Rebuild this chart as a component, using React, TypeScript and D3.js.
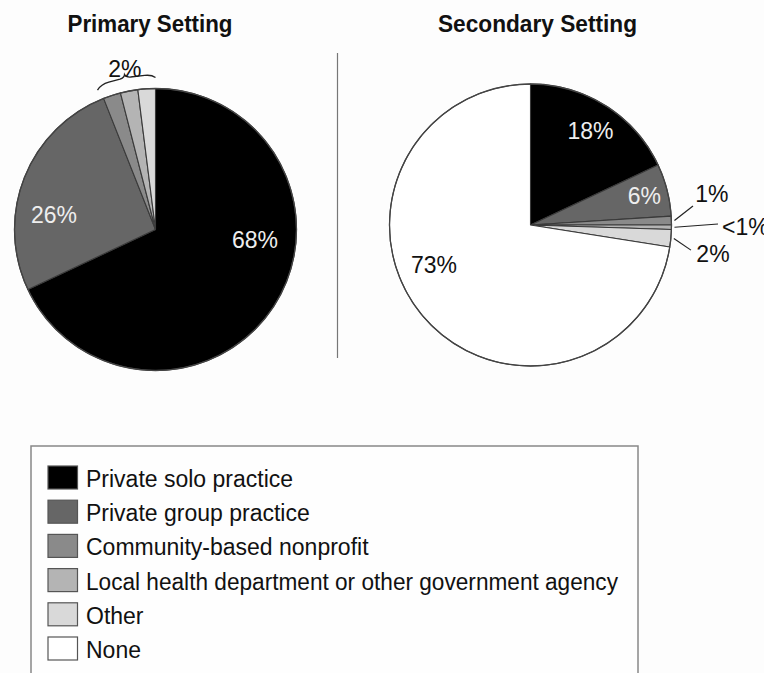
import React from "react";
import * as d3 from "d3";

const categories = [
  "Private solo practice",
  "Private group practice",
  "Community-based nonprofit",
  "Local health department or other government agency",
  "Other",
  "None",
];
const primaryValues = [68, 26, 2, 2, 2, 0];
const secondaryValues = [18, 6, 1, 0.5, 2, 72.5];
const primaryLabels = ["68%", "26%", "", "", "", ""];
const primaryGroupLabel = "2%";
const secondaryLabels = ["18%", "6%", "1%", "<1%", "2%", "73%"];
const titles = ["Primary Setting", "Secondary Setting"];

const palette = ["#000000", "#666666", "#8a8a8a", "#b4b4b4", "#d9d9d9", "#ffffff"];
const FONT = "'Liberation Sans', Arial, Helvetica, sans-serif";
const R = 141;

function polar(cx: number, cy: number, deg: number, r: number): [number, number] {
  const a = (deg * Math.PI) / 180;
  return [cx + r * Math.sin(a), cy - r * Math.cos(a)];
}

type Slice = d3.PieArcDatum<number> & { idx: number };

function makeSlices(values: number[]): Slice[] {
  const pie = d3.pie<number>().sort(null).value((d) => d).startAngle(0).endAngle(2 * Math.PI);
  return pie(values)
    .map((d, i) => ({ ...d, idx: i }))
    .filter((d) => d.value > 0);
}

const arcGen = d3.arc<Slice>().innerRadius(0).outerRadius(R);

function Pie({ cx, cy, values }: { cx: number; cy: number; values: number[] }) {
  const slices = makeSlices(values);
  return (
    <g transform={`translate(${cx},${cy})`}>
      {slices.map((s) => (
        <path
          key={s.idx}
          d={arcGen(s) || ""}
          fill={palette[s.idx]}
          stroke="#3a3a3a"
          strokeWidth={1.1}
          strokeLinejoin="round"
        />
      ))}
      <circle r={R} fill="none" stroke="#444" strokeWidth={1.3} />
    </g>
  );
}

export default function App() {
  const pc: [number, number] = [155.5, 229.5];
  const sc: [number, number] = [530.5, 225];
  const pSlices = makeSlices(primaryValues);
  const sSlices = makeSlices(secondaryValues);
  const labelFont = 23;

  const pPlace: Record<number, { a: number; r: number; fill: string }> = {
    0: { a: 95.7, r: 100, fill: "#eeeeee" },
    1: { a: 278.4, r: 102.6, fill: "#eeeeee" },
  };
  const small = pSlices.filter((s) => s.idx >= 2 && s.idx <= 4);
  const bStart = (small[0].startAngle * 180) / Math.PI - 1;
  const bEnd = (small[small.length - 1].endAngle * 180) / Math.PI;
  const bMid = (bStart + bEnd) / 2;
  const P = (deg: number, r: number) => polar(pc[0], pc[1], deg, r).map((v) => v.toFixed(1)).join(",");
  const brace = `M${P(bStart, 151)} Q${P(bStart + 2, 155)} ${P(bStart + 5, 154.5)} L${P(bMid - 2, 154.5)} Q${P(bMid - 0.3, 155)} ${P(bMid, 158)} Q${P(bMid + 0.3, 155)} ${P(bMid + 2, 154.5)} L${P(bEnd - 4, 154.5)} Q${P(bEnd - 1.5, 155)} ${P(bEnd, 152)}`;
  const groupLabelPos = polar(pc[0], pc[1], bMid + 0.5, 164);

  const inner = d3.arc<Slice>();
  const sPlace: Record<number, any> = {
    0: { r: 112, fill: "#eeeeee" },
    1: { r: 117.5, fill: "#eeeeee" },
    5: { a: 247.5, r: 104.5, fill: "#111111" },
    2: { lead: { a: 83.3, r: 163.6 }, lab: { a: 80.2, r: 184 }, anchor: "middle" },
    3: { lead: { a: 89.7, r: 187.5 }, lab: { a: 90.4, r: 191.5 }, anchor: "start" },
    4: { lead: { a: 98.9, r: 162.4 }, lab: { a: 98.9, r: 184.7 }, anchor: "middle" },
  };

  const legendTop = 466;
  const legendPitch = 34.2;
  const legendWidths: Record<number, number> = { 3: 532 };

  return (
    <div style={{ position: "absolute", left: 0, top: 0 }}>
      <svg width={764} height={673} style={{ display: "block", background: "#ffffff" }} fontFamily={FONT}>
        <rect x={0} y={0} width={764} height={673} fill="#fdfdfd" />
        <text x={150} y={31.5} textAnchor="middle" fontWeight="bold" fontSize={23} fill="#111" textLength={165} lengthAdjust="spacingAndGlyphs">
          {titles[0]}
        </text>
        <text x={537.5} y={31.5} textAnchor="middle" fontWeight="bold" fontSize={23} fill="#111" textLength={199} lengthAdjust="spacingAndGlyphs">
          {titles[1]}
        </text>
        <line x1={337.5} x2={337.5} y1={53} y2={358} stroke="#777" strokeWidth={1.2} />

        <Pie cx={pc[0]} cy={pc[1]} values={primaryValues} />
        {pSlices.map((s) => {
          const lab = primaryLabels[s.idx];
          const pl = pPlace[s.idx];
          if (!lab || !pl) return null;
          const [x, y] = polar(pc[0], pc[1], pl.a, pl.r);
          return (
            <text key={s.idx} x={x} y={y} dy="0.36em" textAnchor="middle" fontSize={labelFont} fill={pl.fill}>
              {lab}
            </text>
          );
        })}
        <path d={brace} fill="none" stroke="#222" strokeWidth={1.3} />
        <text x={groupLabelPos[0]} y={groupLabelPos[1]} dy="0.36em" textAnchor="middle" fontSize={labelFont} fill="#111">
          {primaryGroupLabel}
        </text>

        <Pie cx={sc[0]} cy={sc[1]} values={secondaryValues} />
        {sSlices.map((s) => {
          const lab = secondaryLabels[s.idx];
          const pl = sPlace[s.idx];
          if (!lab || !pl) return null;
          if (pl.lead) {
            const c = inner.innerRadius(144).outerRadius(144).centroid(s);
            const start: [number, number] = [sc[0] + c[0], sc[1] + c[1]];
            const end = polar(sc[0], sc[1], pl.lead.a, pl.lead.r);
            const lp = polar(sc[0], sc[1], pl.lab.a, pl.lab.r);
            return (
              <g key={s.idx}>
                <line x1={start[0]} y1={start[1]} x2={end[0]} y2={end[1]} stroke="#222" strokeWidth={1.2} />
                <text x={lp[0]} y={lp[1]} dy="0.36em" textAnchor={pl.anchor} fontSize={labelFont} fill="#111">
                  {lab}
                </text>
              </g>
            );
          }
          let x: number, y: number;
          if (pl.a !== undefined) {
            [x, y] = polar(sc[0], sc[1], pl.a, pl.r);
          } else {
            const c = inner.innerRadius(pl.r).outerRadius(pl.r).centroid(s);
            x = sc[0] + c[0];
            y = sc[1] + c[1];
          }
          return (
            <text key={s.idx} x={x} y={y} dy="0.36em" textAnchor="middle" fontSize={labelFont} fill={pl.fill}>
              {lab}
            </text>
          );
        })}

        <rect x={31} y={446} width={607} height={260} fill="#fefefe" stroke="#888" strokeWidth={1.5} />
        {categories.map((c, i) => {
          const y = legendTop + i * legendPitch;
          const tl = legendWidths[i];
          return (
            <g key={c}>
              <rect x={48} y={y} width={29.5} height={23} fill={palette[i]} stroke="#555" strokeWidth={1.2} />
              <text
                x={86}
                y={y + 21}
                fontSize={23}
                fill="#111"
                {...(tl ? { textLength: tl, lengthAdjust: "spacingAndGlyphs" } : {})}
              >
                {c}
              </text>
            </g>
          );
        })}
      </svg>
    </div>
  );
}
